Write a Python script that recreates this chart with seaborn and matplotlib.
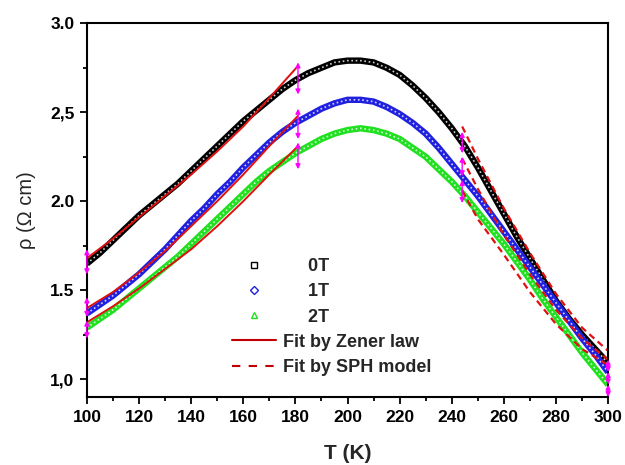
import matplotlib
matplotlib.use("Agg")
import matplotlib.pyplot as plt
from matplotlib.lines import Line2D
from matplotlib.ticker import MultipleLocator, FixedLocator, FixedFormatter
import seaborn as sns
import pandas as pd

# measured resistivity, T step 5 K
temps = list(range(100, 305, 5))
rho_0T = [1.65, 1.71, 1.78, 1.85, 1.92, 1.98, 2.04, 2.10, 2.17, 2.24, 2.31,
          2.38, 2.45, 2.51, 2.57, 2.63, 2.68, 2.72, 2.75, 2.78, 2.79, 2.79,
          2.78, 2.75, 2.71, 2.65, 2.58, 2.50, 2.41, 2.31, 2.19, 2.06, 1.93,
          1.80, 1.68, 1.56, 1.44, 1.34, 1.25, 1.17, 1.09]
rho_1T = [1.37, 1.42, 1.47, 1.53, 1.59, 1.66, 1.73, 1.81, 1.89, 1.96, 2.04,
          2.11, 2.19, 2.26, 2.33, 2.39, 2.44, 2.48, 2.52, 2.55, 2.57, 2.57,
          2.56, 2.53, 2.49, 2.44, 2.38, 2.30, 2.21, 2.12, 2.03, 1.93, 1.83,
          1.73, 1.63, 1.53, 1.43, 1.33, 1.23, 1.14, 1.04]
rho_2T = [1.29, 1.34, 1.39, 1.45, 1.51, 1.57, 1.63, 1.69, 1.76, 1.83, 1.90,
          1.97, 2.04, 2.11, 2.17, 2.22, 2.27, 2.31, 2.35, 2.38, 2.40, 2.41,
          2.40, 2.38, 2.35, 2.30, 2.25, 2.18, 2.11, 2.03, 1.94, 1.85, 1.76,
          1.66, 1.56, 1.45, 1.35, 1.25, 1.15, 1.06, 0.97]

# Zener law fits (low T)
zener_T = [100, 110, 120, 130, 140, 150, 160, 170, 181]
zener_0T = [1.68, 1.79, 1.91, 2.03, 2.15, 2.28, 2.42, 2.58, 2.76]
zener_1T = [1.40, 1.49, 1.60, 1.72, 1.86, 2.00, 2.15, 2.31, 2.48]
zener_2T = [1.32, 1.41, 1.51, 1.62, 1.73, 1.86, 2.00, 2.15, 2.31]

# SPH model fits (high T)
sph_T = [244, 250, 260, 270, 280, 290, 300]
sph_0T = [2.42, 2.24, 1.96, 1.71, 1.48, 1.29, 1.16]
sph_1T = [2.24, 2.07, 1.81, 1.59, 1.39, 1.23, 1.11]
sph_2T = [2.06, 1.90, 1.70, 1.49, 1.31, 1.17, 1.08]

# fit range markers (double arrows)
arrow_T = [100, 100, 100, 181, 181, 181, 244, 244, 244, 300, 300, 300]
arrow_lo = [1.59, 1.35, 1.23, 2.60, 2.35, 2.18, 2.27, 2.14, 1.99, 1.04, 0.97, 0.90]
arrow_hi = [1.73, 1.46, 1.33, 2.78, 2.52, 2.33, 2.39, 2.25, 2.12, 1.11, 1.04, 0.97]

labels = ["0T", "1T", "2T"]
colors = ["black", "#2020e0", "#20e020"]
markers = ["s", "D", "^"]

sns.set_style("white")
plt.rcParams["font.family"] = ["Liberation Sans", "DejaVu Sans"]

fig = plt.figure(figsize=(6.25, 4.65), dpi=100)
ax = fig.add_axes([0.139, 0.146, 0.834, 0.804])

data = pd.DataFrame({"T": temps, "0T": rho_0T, "1T": rho_1T, "2T": rho_2T})
for lab, c in zip(labels, colors):
    sns.lineplot(x=data["T"], y=data[lab], color=c, lw=4.6, ax=ax,
                 solid_capstyle="butt")
    sns.lineplot(x=data["T"], y=data[lab], color="white", lw=1.2, ax=ax,
                 linestyle=(0, (1, 1.6)), alpha=0.8)

fit_red = "#e01010"
for z in [zener_0T, zener_1T, zener_2T]:
    ax.plot(zener_T, z, color=fit_red, lw=1.4)
for s in [sph_0T, sph_1T, sph_2T]:
    ax.plot(sph_T, s, color=fit_red, lw=1.6, linestyle=(0, (3, 2)))

for t, lo, hi in zip(arrow_T, arrow_lo, arrow_hi):
    ax.annotate("", xy=(t, hi), xytext=(t, lo),
                arrowprops=dict(arrowstyle="<|-|>", color="#ff00ff", lw=1.0,
                                mutation_scale=7, shrinkA=0, shrinkB=0))

ax.set_xlim(100, 300)
ax.set_ylim(0.9, 3.0)
ax.xaxis.set_major_locator(MultipleLocator(20))
ax.xaxis.set_minor_locator(MultipleLocator(10))
ax.yaxis.set_major_locator(FixedLocator([1.0, 1.5, 2.0, 2.5, 3.0]))
ax.yaxis.set_major_formatter(FixedFormatter(["1,0", "1.5", "2.0", "2,5", "3.0"]))
ax.yaxis.set_minor_locator(MultipleLocator(0.25))

for sp in ax.spines.values():
    sp.set_linewidth(1.5)
    sp.set_color("black")
ax.tick_params(which="both", direction="out", bottom=True, left=True,
               top=False, right=False, width=1.3, colors="black")
ax.tick_params(which="major", length=5, labelsize=12.5, pad=4)
ax.tick_params(which="minor", length=3)
for lbl in ax.get_xticklabels() + ax.get_yticklabels():
    lbl.set_fontweight("bold")

ax.set_xlabel("T (K)", fontsize=15, fontweight="bold", labelpad=14)
ax.set_ylabel("ρ (Ω cm)", fontsize=14.5, labelpad=10)

handles = [Line2D([], [], color=c, marker=m, ls="none", markersize=4,
                  markerfacecolor="none", markeredgewidth=1)
           for c, m in zip(colors, markers)]
handles.append(Line2D([], [], color="#c00000", lw=1.5))
handles.append(Line2D([], [], color="#c00000", lw=1.5, ls=(0, (4, 4))))
names = ["     0T", "     1T", "     2T", "Fit by Zener law", "Fit by SPH model"]
ax.legend(handles, names, loc="upper left", bbox_to_anchor=(0.255, 0.405),
          frameon=False, prop={"weight": "bold", "size": 13},
          handlelength=2.4, handletextpad=0.4, labelspacing=0.45,
          borderpad=0.2)

fig.savefig("out.png", dpi=100)
